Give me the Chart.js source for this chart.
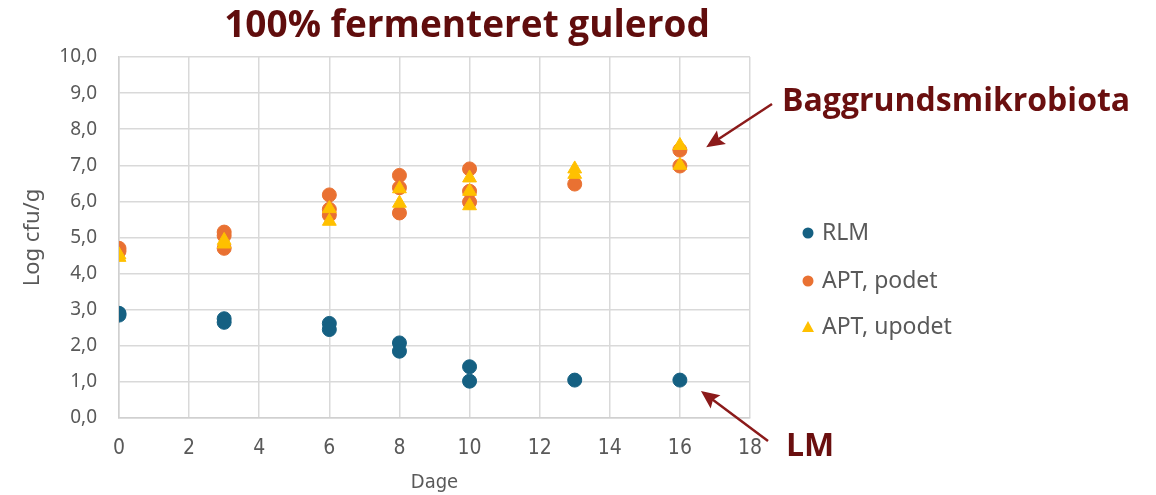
<!DOCTYPE html>
<html lang="da">
<head>
<meta charset="UTF-8" />
<title>100% fermenteret gulerod</title>
<style>
  html, body { margin: 0; padding: 0; background: #fff; }
  .wrap { width: 1156px; height: 495px; position: relative; }
</style>
</head>
<body>
<div class="wrap"><canvas id="chart" width="1156" height="495"></canvas></div>

<script src="https://cdn.jsdelivr.net/npm/chart.js"></script>
<script>
  // days
  const rlmDays = [0, 0, 3, 3, 6, 6, 8, 8, 10, 10, 13, 16];
  const rlmVals = [2.85, 2.9, 2.75, 2.65, 2.62, 2.45, 2.08, 1.85, 1.42, 1.02, 1.05, 1.05];

  const podetDays = [0, 0, 3, 3, 3, 6, 6, 6, 8, 8, 8, 10, 10, 10, 13, 16, 16];
  const podetVals = [4.7, 4.62, 5.15, 5.05, 4.7, 6.18, 5.78, 5.62, 6.72, 6.38, 5.68, 6.9, 6.28, 5.98, 6.48, 7.42, 6.98];

  const upodetDays = [0, 0, 3, 3, 6, 6, 8, 8, 10, 10, 10, 13, 13, 16, 16];
  const upodetVals = [4.52, 4.45, 4.92, 4.82, 5.8, 5.45, 6.35, 5.95, 6.65, 6.28, 5.88, 6.9, 6.75, 7.55, 7.0];

  const seriesNames = ["RLM", "APT, podet", "APT, upodet"];
  const seriesColors = ["#156082", "#E97132", "#FFC000"];

  const toPoints = (xs, ys) => xs.map((x, i) => ({ x: x, y: ys[i] }));

  const grey = "#595959";
  const red = "#8b1a1a";
  const narrow = "'DejaVu Sans Condensed', 'Liberation Sans Narrow', 'Noto Sans', sans-serif";

  function arrow(ctx, x1, y1, x2, y2) {
    const a = Math.atan2(y2 - y1, x2 - x1);
    const len = 20, w = 0.42;
    ctx.save();
    ctx.strokeStyle = red;
    ctx.fillStyle = red;
    ctx.lineWidth = 2.5;
    ctx.beginPath();
    ctx.moveTo(x1, y1);
    ctx.lineTo(x2 - Math.cos(a) * len * 0.7, y2 - Math.sin(a) * len * 0.7);
    ctx.stroke();
    ctx.beginPath();
    ctx.moveTo(x2, y2);
    ctx.lineTo(x2 - len * Math.cos(a - w), y2 - len * Math.sin(a - w));
    ctx.lineTo(x2 - len * 0.75 * Math.cos(a), y2 - len * 0.75 * Math.sin(a));
    ctx.lineTo(x2 - len * Math.cos(a + w), y2 - len * Math.sin(a + w));
    ctx.closePath();
    ctx.fill();
    ctx.restore();
  }

  // title, legend and the two notes
  const extras = {
    id: "extras",
    afterDraw(chart) {
      const ctx = chart.ctx;
      const xs = chart.scales.x, ys = chart.scales.y;
      ctx.save();
      ctx.fillStyle = "#600d0d";
      ctx.font = "bold 37px 'Open Sans'";
      ctx.textAlign = "center";
      ctx.textBaseline = "middle";
      ctx.fillText("100% fermenteret gulerod", 467, 26);

      ctx.fillStyle = "#6a0f0f";
      ctx.font = "bold 32px 'Open Sans'";
      ctx.textAlign = "left";
      ctx.fillText("Baggrundsmikrobiota", 782, 102);
      ctx.fillText("LM", 786, 447);

      arrow(ctx, 772, 104, xs.getPixelForValue(16.75), ys.getPixelForValue(7.5));
      arrow(ctx, 768, 441, xs.getPixelForValue(16.6), ys.getPixelForValue(0.75));

      // legend
      ctx.font = "23px 'Noto Sans'";
      const rowsY = [233, 281, 327];
      chart.data.datasets.forEach((ds, i) => {
        const y = rowsY[i];
        ctx.fillStyle = ds.backgroundColor;
        ctx.beginPath();
        if (ds.pointStyle === "triangle") {
          ctx.moveTo(808, y - 6);
          ctx.lineTo(814, y + 5);
          ctx.lineTo(802, y + 5);
          ctx.closePath();
        } else {
          ctx.arc(808, y, 5.5, 0, Math.PI * 2);
        }
        ctx.fill();
        ctx.fillStyle = grey;
        ctx.textAlign = "left";
        ctx.textBaseline = "middle";
        ctx.fillText(ds.label, 822, y);
      });
      ctx.restore();
    }
  };

  new Chart(document.getElementById("chart"), {
    type: "scatter",
    data: {
      datasets: [
        { label: seriesNames[0], data: toPoints(rlmDays, rlmVals), backgroundColor: seriesColors[0], borderColor: seriesColors[0], pointStyle: "circle", pointRadius: 7, order: 3 },
        { label: seriesNames[1], data: toPoints(podetDays, podetVals), backgroundColor: seriesColors[1], borderColor: seriesColors[1], pointStyle: "circle", pointRadius: 7, order: 2 },
        { label: seriesNames[2], data: toPoints(upodetDays, upodetVals), backgroundColor: seriesColors[2], borderColor: seriesColors[2], pointStyle: "triangle", pointRadius: 8, order: 1 }
      ]
    },
    options: {
      responsive: false,
      animation: false,
      layout: { padding: { top: 57, right: 406, left: 0, bottom: 0 } },
      plugins: { legend: { display: false }, tooltip: { enabled: false } },
      scales: {
        x: {
          min: 0, max: 18,
          ticks: { stepSize: 2, color: grey, padding: 18, font: { family: narrow, size: 21 } },
          grid: { color: "#d9d9d9", lineWidth: 1.5, drawTicks: false },
          border: { color: "#d0d0d0", width: 1.5 },
          title: { display: true, text: "Dage", color: grey, padding: { top: 0, bottom: 0 }, font: { family: narrow, size: 20 } },
          afterFit(scale) { scale.height = 77; }
        },
        y: {
          min: 0, max: 10,
          ticks: { stepSize: 1, color: grey, padding: 22, font: { family: "'Noto Sans'", size: 19 },
            callback: (v) => v.toFixed(1).replace(".", ",") },
          grid: { color: "#d9d9d9", lineWidth: 1.5, drawTicks: false },
          border: { color: "#d0d0d0", width: 1.5 },
          title: { display: true, text: "Log cfu/g", color: grey, padding: { top: 20, bottom: 0 }, font: { family: "'Noto Sans'", size: 22 } },
          afterFit(scale) { scale.width = 119; }
        }
      }
    },
    plugins: [extras]
  });
</script>
</body>
</html>
